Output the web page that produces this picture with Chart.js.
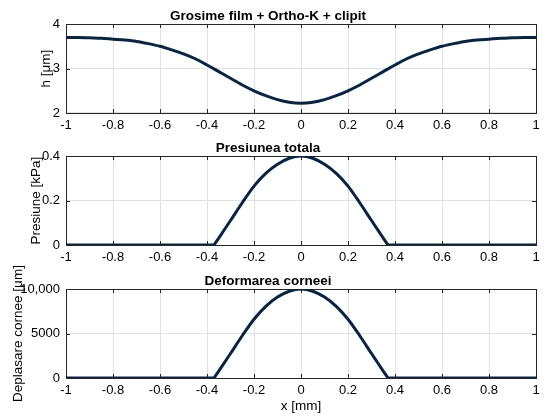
<!DOCTYPE html>
<html>
<head>
<meta charset="utf-8">
<script src="https://cdn.jsdelivr.net/npm/chart.js@4.4.1/dist/chart.umd.min.js"></script>
<style>
    body { margin: 0; background: #fff; }
    #wrap { position: relative; width: 550px; height: 420px; }
    #wrap canvas { position: absolute; left: 0; top: 0; }
</style>
</head>
<body>
<div id="wrap">
    <canvas id="chartH" width="550" height="420"></canvas>
    <canvas id="chartP" width="550" height="420"></canvas>
    <canvas id="chartD" width="550" height="420"></canvas>
</div>
<script>
// --- Dados ---
const hX = [-1, -0.95, -0.9, -0.85, -0.8, -0.75, -0.7, -0.65, -0.6, -0.55, -0.5, -0.45, -0.4, -0.35, -0.3, -0.25, -0.2, -0.15, -0.1, -0.05,
    0, 0.05, 0.1, 0.15, 0.2, 0.25, 0.3, 0.35, 0.4, 0.45, 0.5, 0.55, 0.6, 0.65, 0.7, 0.75, 0.8, 0.85, 0.9, 0.95, 1];
const hVals = [3.70, 3.70, 3.69, 3.68, 3.66, 3.64, 3.61, 3.56, 3.50, 3.42, 3.33, 3.22, 3.08, 2.93, 2.78, 2.63, 2.50, 2.39, 2.30, 2.24,
    2.22, 2.24, 2.30, 2.39, 2.50, 2.63, 2.78, 2.93, 3.08, 3.22, 3.33, 3.42, 3.50, 3.56, 3.61, 3.64, 3.66, 3.68, 3.69, 3.70, 3.70];

// zona de contacto (fora dela, pressao e deformacao sao zero)
const bumpX = [-0.37, -0.35, -0.3, -0.25, -0.2, -0.15, -0.1, -0.05, 0, 0.05, 0.1, 0.15, 0.2, 0.25, 0.3, 0.35, 0.37];
const pVals = [0, 0.031, 0.11, 0.19, 0.265, 0.322, 0.363, 0.390, 0.400, 0.390, 0.363, 0.322, 0.265, 0.19, 0.11, 0.031, 0];
const dVals = [0, 780, 2750, 4750, 6600, 8050, 9100, 9750, 10000, 9750, 9100, 8050, 6600, 4750, 2750, 780, 0];
const flatLeftX = [-1, -0.37];
const flatRightX = [0.37, 1];
const flatVals = [0, 0];

const xTicks = { min: -1, max: 1, step: 0.2 };

const lineColor = '#082444';
const axisColor = '#262626';
const gridColor = '#e2e2e2';
const fontFamily = "'Liberation Sans', Arial, sans-serif";

function pts(xs, ys) {
    return xs.map((x, i) => ({ x: x, y: ys[i] }));
}

// rotulos como no MATLAB: -1, -0.8, ..., 5000, 10,000
function fmtTick(v) {
    const n = Number(v.toFixed(4));
    return Math.abs(n) >= 10000 ? n.toLocaleString('en-US') : String(n);
}

// caixa + marcas de escala para dentro (estilo MATLAB)
const boxPlugin = {
    id: 'matlabBox',
    beforeDatasetsDraw(chart) {
        const { ctx, chartArea: a, scales } = chart;
        ctx.save();
        ctx.strokeStyle = axisColor;
        ctx.lineWidth = 1;
        ctx.beginPath();
        scales.x.ticks.forEach(t => {
            const px = Math.round(scales.x.getPixelForValue(t.value)) + 0.5;
            ctx.moveTo(px, a.bottom); ctx.lineTo(px, a.bottom - 4);
            ctx.moveTo(px, a.top); ctx.lineTo(px, a.top + 4);
        });
        scales.y.ticks.forEach(t => {
            const py = Math.round(scales.y.getPixelForValue(t.value)) + 0.5;
            ctx.moveTo(a.left, py); ctx.lineTo(a.left + 4, py);
            ctx.moveTo(a.right, py); ctx.lineTo(a.right - 4, py);
        });
        ctx.stroke();
        ctx.strokeRect(Math.round(a.left) + 0.5, Math.round(a.top) + 0.5,
            Math.round(a.right - a.left), Math.round(a.bottom - a.top));
        ctx.restore();
    }
};

function makeChart(id, cfg) {
    const datasets = cfg.series.map(s => ({
        data: s,
        borderColor: lineColor,
        borderWidth: 3,
        pointRadius: 0,
        fill: false,
        cubicInterpolationMode: 'monotone',
        tension: 0.4
    }));
    return new Chart(document.getElementById(id), {
        type: 'line',
        data: { datasets: datasets },
        plugins: [boxPlugin],
        options: {
            responsive: false,
            animation: false,
            layout: { padding: { top: cfg.padTop, bottom: cfg.padBottom, left: 0, right: 14 } },
            plugins: {
                legend: { display: false },
                tooltip: { enabled: false },
                title: {
                    display: true,
                    text: cfg.title,
                    color: '#000',
                    font: { family: fontFamily, size: 13.5, weight: 'bold', lineHeight: 1.1 },
                    padding: { top: 8.5, bottom: 0.7 }
                }
            },
            scales: {
                x: {
                    type: 'linear',
                    min: xTicks.min,
                    max: xTicks.max,
                    afterFit: s => { s.height = cfg.xHeight; },
                    ticks: {
                        stepSize: xTicks.step,
                        padding: 5,
                        maxRotation: 0,
                        autoSkip: false,
                        color: '#000',
                        font: { family: fontFamily, size: 13 },
                        callback: v => fmtTick(v)
                    },
                    grid: { color: gridColor, drawTicks: false },
                    border: { display: false },
                    title: {
                        display: !!cfg.xTitle,
                        text: cfg.xTitle || '',
                        color: '#000',
                        font: { family: fontFamily, size: 13.5 },
                        padding: { top: 0, bottom: 4 }
                    }
                },
                y: {
                    min: cfg.yMin,
                    max: cfg.yMax,
                    afterFit: s => { s.width = 66; },
                    ticks: {
                        stepSize: cfg.yStep,
                        padding: 6,
                        color: '#000',
                        font: { family: fontFamily, size: 13 },
                        callback: v => fmtTick(v)
                    },
                    grid: { color: gridColor, drawTicks: false },
                    border: { display: false },
                    title: {
                        display: true,
                        text: cfg.yTitle,
                        color: '#000',
                        font: { family: fontFamily, size: 13.5 },
                        padding: { top: cfg.yTitlePad, bottom: 0 }
                    }
                }
            }
        }
    });
}

makeChart('chartH', {
    title: 'Grosime film + Ortho-K + clipit',
    series: [pts(hX, hVals)],
    yMin: 2, yMax: 4, yStep: 1,
    yTitle: 'h [μm]', yTitlePad: 38,
    padTop: 0, padBottom: 287, xHeight: 20
});

makeChart('chartP', {
    title: 'Presiunea totala',
    series: [pts(flatLeftX, flatVals), pts(bumpX, pVals), pts(flatRightX, flatVals)],
    yMin: 0, yMax: 0.4, yStep: 0.2,
    yTitle: 'Presiune [kPa]', yTitlePad: 28,
    padTop: 132, padBottom: 155, xHeight: 20
});

makeChart('chartD', {
    title: 'Deformarea corneei',
    series: [pts(flatLeftX, flatVals), pts(bumpX, dVals), pts(flatRightX, flatVals)],
    yMin: 0, yMax: 10000, yStep: 5000,
    yTitle: 'Deplasare cornee [μm]', yTitlePad: 10,
    xTitle: 'x [mm]',
    padTop: 265, padBottom: 2, xHeight: 40
});
</script>
</body>
</html>
